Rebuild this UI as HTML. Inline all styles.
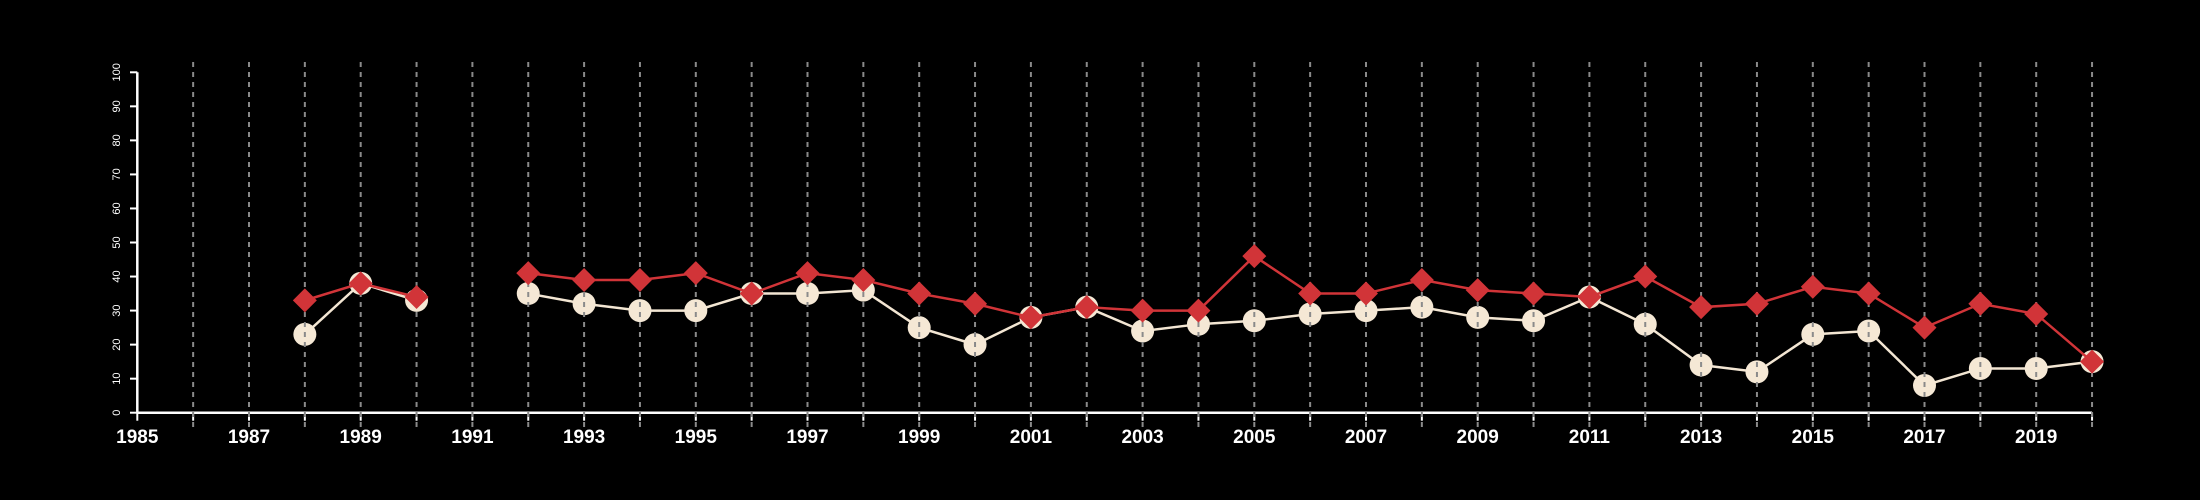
<!DOCTYPE html>
<html><head><meta charset="utf-8"><style>body{margin:0;background:#000}svg{display:block}</style></head>
<body>
<svg id="chart" width="2200" height="500" xmlns="http://www.w3.org/2000/svg" style="background:#000;font-family:'Liberation Sans',sans-serif"></svg>
<script>
const years = [1988,1989,1990,1991,1992,1993,1994,1995,1996,1997,1998,1999,2000,2001,2002,2003,2004,2005,2006,2007,2008,2009,2010,2011,2012,2013,2014,2015,2016,2017,2018,2019,2020];
const whiteSeries = [23,38,33,null,35,32,30,30,35,35,36,25,20,28,31,24,26,27,29,30,31,28,27,34,26,14,12,23,24,8,13,13,15];
const redSeries = [33,38,34,null,41,39,39,41,35,41,39,35,32,28,31,30,30,46,35,35,39,36,35,34,40,31,32,37,35,25,32,29,15];
const yTicks = [0,10,20,30,40,50,60,70,80,90,100];
const xLabels = [1985,1987,1989,1991,1993,1995,1997,1999,2001,2003,2005,2007,2009,2011,2013,2015,2017,2019];

const svg = document.getElementById('chart');
const NS = 'http://www.w3.org/2000/svg';
const x = yr => 137.3 + (yr - 1985) * 55.85;
const y = v => 412.7 - v * 3.404;
function mk(tag, attrs, parent) {
  const e = document.createElementNS(NS, tag);
  for (const k in attrs) e.setAttribute(k, attrs[k]);
  (parent || svg).appendChild(e);
  return e;
}
// axes
let ax = mk('line',{x1:137.3,y1:y(0),x2:x(2020),y2:y(0),stroke:'#fff','stroke-width':2.5});
 
let ay = mk('line',{x1:137.3,y1:y(0),x2:137.3,y2:y(100),stroke:'#fff','stroke-width':2.5});
 
for (let yr = 1985; yr <= 2020; yr++) {
  const t = mk('line',{x1:x(yr),y1:y(0),x2:x(yr),y2:y(0)+8,stroke:'#fff','stroke-width':2});
   
}
xLabels.forEach(yr => {
  const t = mk('text',{x:x(yr),y:443,fill:'#fff','font-size':19,'font-weight':'bold','text-anchor':'middle'});
  t.textContent = yr;
   
});
yTicks.forEach(v => {
  const t = mk('line',{x1:130,y1:y(v),x2:137.3,y2:y(v),stroke:'#fff','stroke-width':2});
   
  const l = mk('text',{x:0,y:0,fill:'#fff','font-size':11,'text-anchor':'middle',transform:`translate(120,${y(v)}) rotate(-90)`});
  l.textContent = v;
   
});
function linePath(vals){
  let d='', pen=false;
  vals.forEach((v,i)=>{ if(v==null){pen=false;return;} d+=(pen?'L':'M')+x(years[i])+' '+y(v)+' '; pen=true; });
  return d;
}
let wl = mk('path',{d:linePath(whiteSeries),fill:'none',stroke:'#f3e6d3','stroke-width':2.5});
 
whiteSeries.forEach((v,i)=>{ if(v==null) return;
  const c = mk('circle',{cx:x(years[i]),cy:y(v),r:11.5,fill:'#f5e8d5'});
   
});
for (let yr = 1986; yr <= 2020; yr++) {
  const g = mk('line',{x1:x(yr),y1:62,x2:x(yr),y2:428,stroke:'#8a8a8a','stroke-width':2,'stroke-dasharray':'5 5'});
   
}
let rl = mk('path',{d:linePath(redSeries),fill:'none',stroke:'#d13438','stroke-width':2.5});
 
redSeries.forEach((v,i)=>{ if(v==null) return;
  const cx=x(years[i]), cy=y(v), s=12;
  const p = mk('polygon',{points:`${cx},${cy-s} ${cx+s},${cy} ${cx},${cy+s} ${cx-s},${cy}`,fill:'#d13438'});
   
});
</script>
</body></html>
